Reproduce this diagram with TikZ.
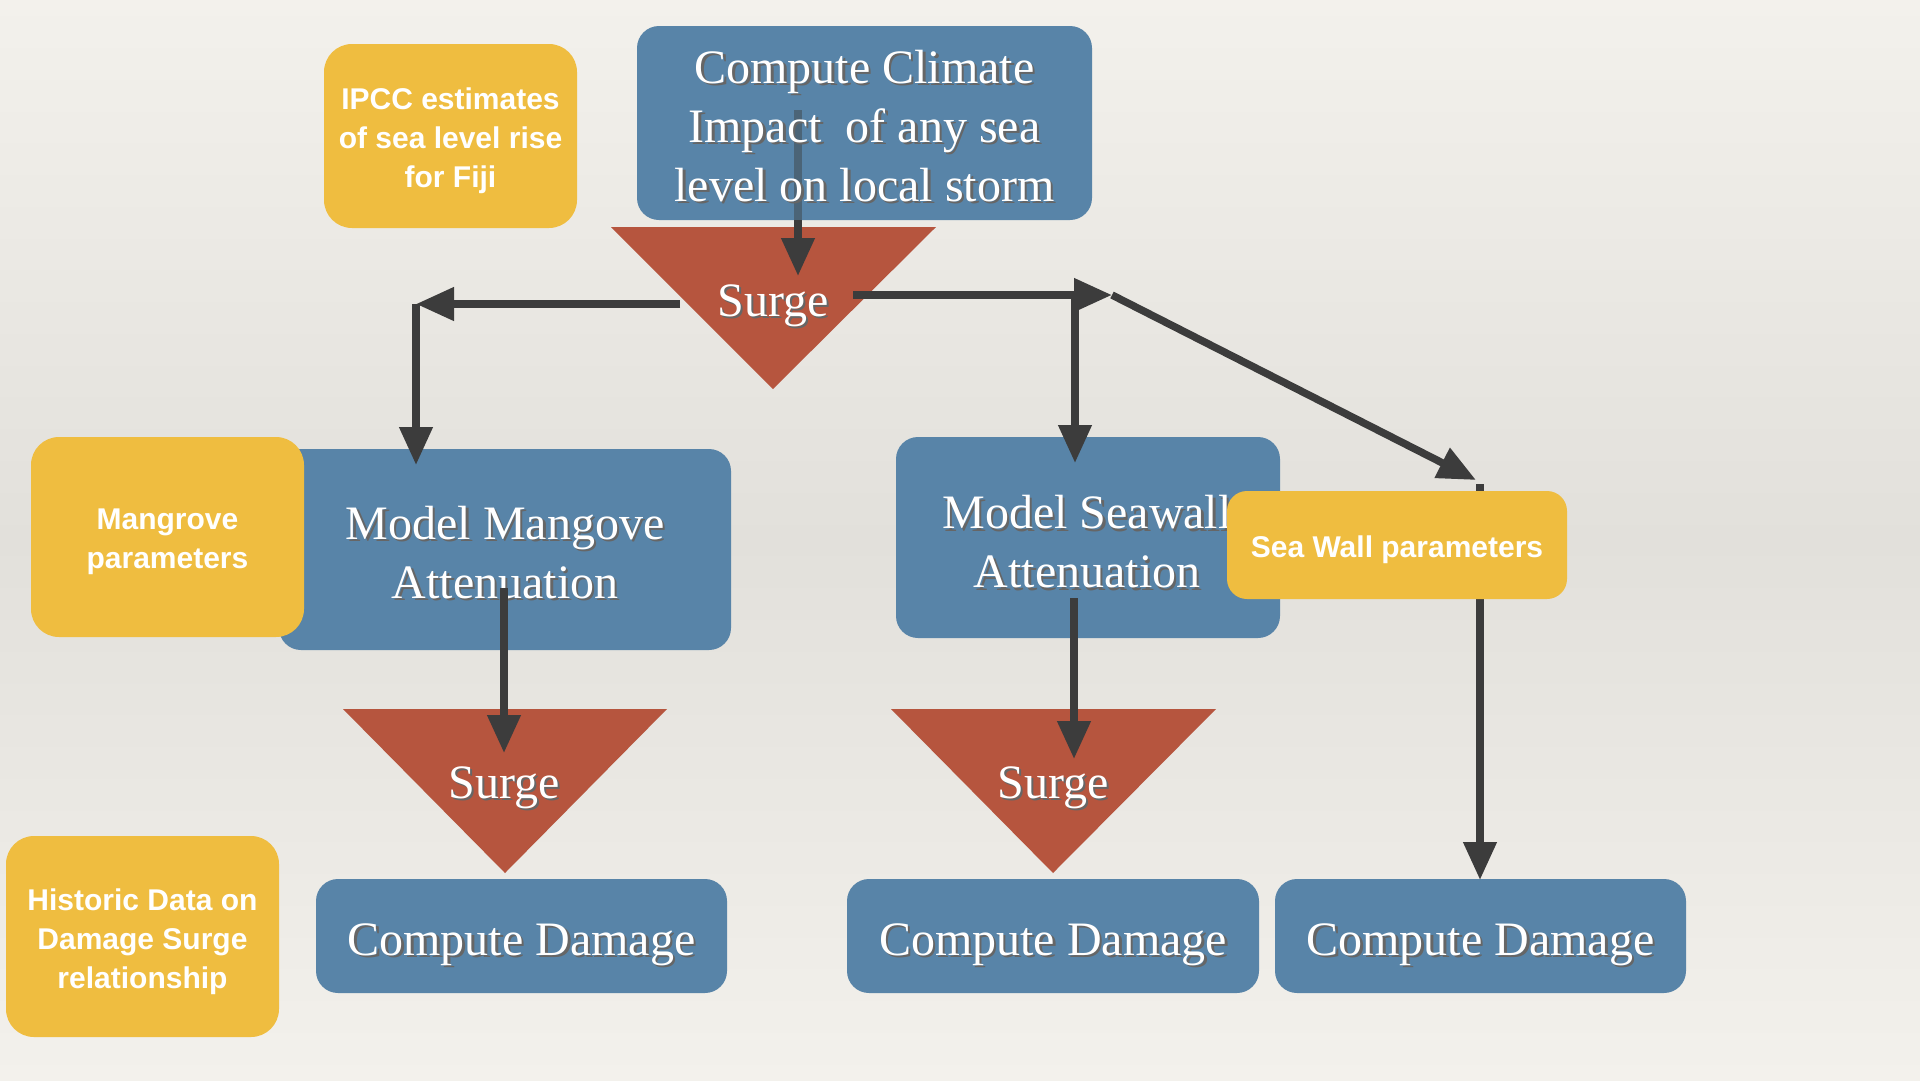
\documentclass[tikz,border=0pt]{standalone}
\usepackage{fontspec}
\setmainfont{Liberation Serif}
\newfontfamily\sansb{Liberation Sans}
\usetikzlibrary{arrows.meta}
\definecolor{boxblue}{HTML}{5884A8}
\definecolor{surgered}{HTML}{B6553E}
\definecolor{paryellow}{HTML}{EFBD40}
\definecolor{arrowgray}{HTML}{3C3C3C}
\definecolor{paper}{HTML}{F3F1EC}
\definecolor{papermid}{HTML}{E2E0DB}
\newcommand\shd[2][6pt]{\raisebox{-#1}[\height][\depth]{\rlap{\kern2.5pt\raisebox{-2.5pt}{\textcolor{black!60}{#2}}}#2}}
\newcommand\ylw[1]{\raisebox{-5pt}[\height][\depth]{#1}}
\tikzset{
  bluebox/.style={fill=boxblue, rounded corners=22pt, inner sep=0pt, align=center,
    text=white, font=\fontsize{48}{59}\selectfont},
  yelbox/.style={fill=paryellow, rounded corners=28pt, inner sep=0pt, align=center,
    text=white, font=\sansb\bfseries\fontsize{30}{39}\selectfont},
  surgetxt/.style={text=white, font=\fontsize{48}{59}\selectfont, inner sep=0pt},
  surgetri/.style={fill=surgered},
  flow/.style={draw=arrowgray, line width=7.5pt, -{Triangle[length=38pt,width=32pt]}},
  flowline/.style={draw=arrowgray, line width=7.5pt},
}
\begin{document}
\begin{tikzpicture}[x=1pt, y=-1pt]
\shade[top color=paper, bottom color=paper, middle color=papermid]
  (0,0) rectangle (1920,1080);
\useasboundingbox (0,0) rectangle (1920,1080);

% triangles
\fill[surgetri] (611,227) -- (936,227) -- (773,389) -- cycle;
\fill[surgetri] (343,709) -- (667,709) -- (505,873) -- cycle;
\fill[surgetri] (891,709) -- (1216,709) -- (1053,873) -- cycle;
\node[surgetxt] (s1) at (773,299) {\shd[8pt]{Surge}};
\node[surgetxt] (s2) at (504,781) {\shd[8pt]{Surge}};
\node[surgetxt] (s3) at (1053,781) {\shd[8pt]{Surge}};

% blue boxes
\node[bluebox, minimum width=455pt, minimum height=194pt,
  path picture={\draw[line width=7.5pt, arrowgray!45!boxblue]
    ([xshift=-66.5pt,yshift=13pt]path picture bounding box.center) --
    ([xshift=-66.5pt,yshift=-100pt]path picture bounding box.center);}] (climate) at (864.5,123)
  {\shd[4pt]{Compute Climate}\\\shd[4pt]{Impact~ of any sea}\\\shd[4pt]{level on local storm}};
\node[bluebox, minimum width=452pt, minimum height=201pt] (mang) at (505,549.5)
  {\shd[4pt]{Model Mangove}\\\shd[4pt]{Attenuation}};
\node[bluebox, minimum width=384pt, minimum height=201pt] (seaw) at (1088,537.5) {};
\node[text=white, font=\fontsize{48}{59}\selectfont, align=center, inner sep=0pt] (seawtxt) at (1087,539)
  {\shd[4pt]{Model Seawall}\\\shd[4pt]{Attenuation}};
\node[bluebox, minimum width=411pt, minimum height=114pt] (cd1) at (521.5,936) {\shd[10pt]{Compute Damage}};
\node[bluebox, minimum width=412pt, minimum height=114pt] (cd2) at (1053,936) {\shd[10pt]{Compute Damage}};
\node[bluebox, minimum width=411pt, minimum height=114pt] (cd3) at (1480.5,936) {\shd[10pt]{Compute Damage}};

% connectors
\coordinate (c1m) at (798,220);
\coordinate (c1e) at (798,276);
\coordinate (lstart) at (680,304);
\coordinate (ltip) at (416,304);
\coordinate (ldown) at (416,465);
\coordinate (rstart) at (853,295);
\coordinate (rtip) at (1112,295);
\coordinate (rbranch) at (1075,295);
\coordinate (rdown) at (1075,463);
\coordinate (dtip) at (1476,480);
\coordinate (swtop) at (1480,484);
\coordinate (swbot) at (1480,880);
\coordinate (m1s) at (504,588);
\coordinate (m1e) at (504,753);
\coordinate (m2s) at (1074,598);
\coordinate (m2e) at (1074,759);

\draw[flow] (c1m) -- (c1e);
\draw[flow] (lstart) -- (ltip);
\draw[flow] (ltip) -- (ldown);
\draw[flow] (rstart) -- (rtip);
\draw[flow] (rbranch) -- (rdown);
\draw[flow] (rtip) -- (dtip);
\draw[flow] (swtop) -- (swbot);
\draw[flow] (m1s) -- (m1e);
\draw[flow] (m2s) -- (m2e);

% yellow boxes
\node[yelbox, minimum width=253pt, minimum height=184pt] (ipcc) at (450.5,136)
  {\ylw{IPCC estimates}\\\ylw{of sea level rise}\\\ylw{for Fiji}};
\node[yelbox, minimum width=273pt, minimum height=200pt] (mpar) at (167.5,537)
  {\ylw{Mangrove}\\\ylw{parameters}};
\node[yelbox, rounded corners=20pt, minimum width=340pt, minimum height=108pt] (swpar) at (1397,545)
  {\ylw{Sea Wall parameters}};
\node[yelbox, minimum width=273pt, minimum height=201pt] (hist) at (142.5,936.5)
  {\ylw{Historic Data on}\\\ylw{Damage Surge}\\\ylw{relationship}};
\end{tikzpicture}
\end{document}
